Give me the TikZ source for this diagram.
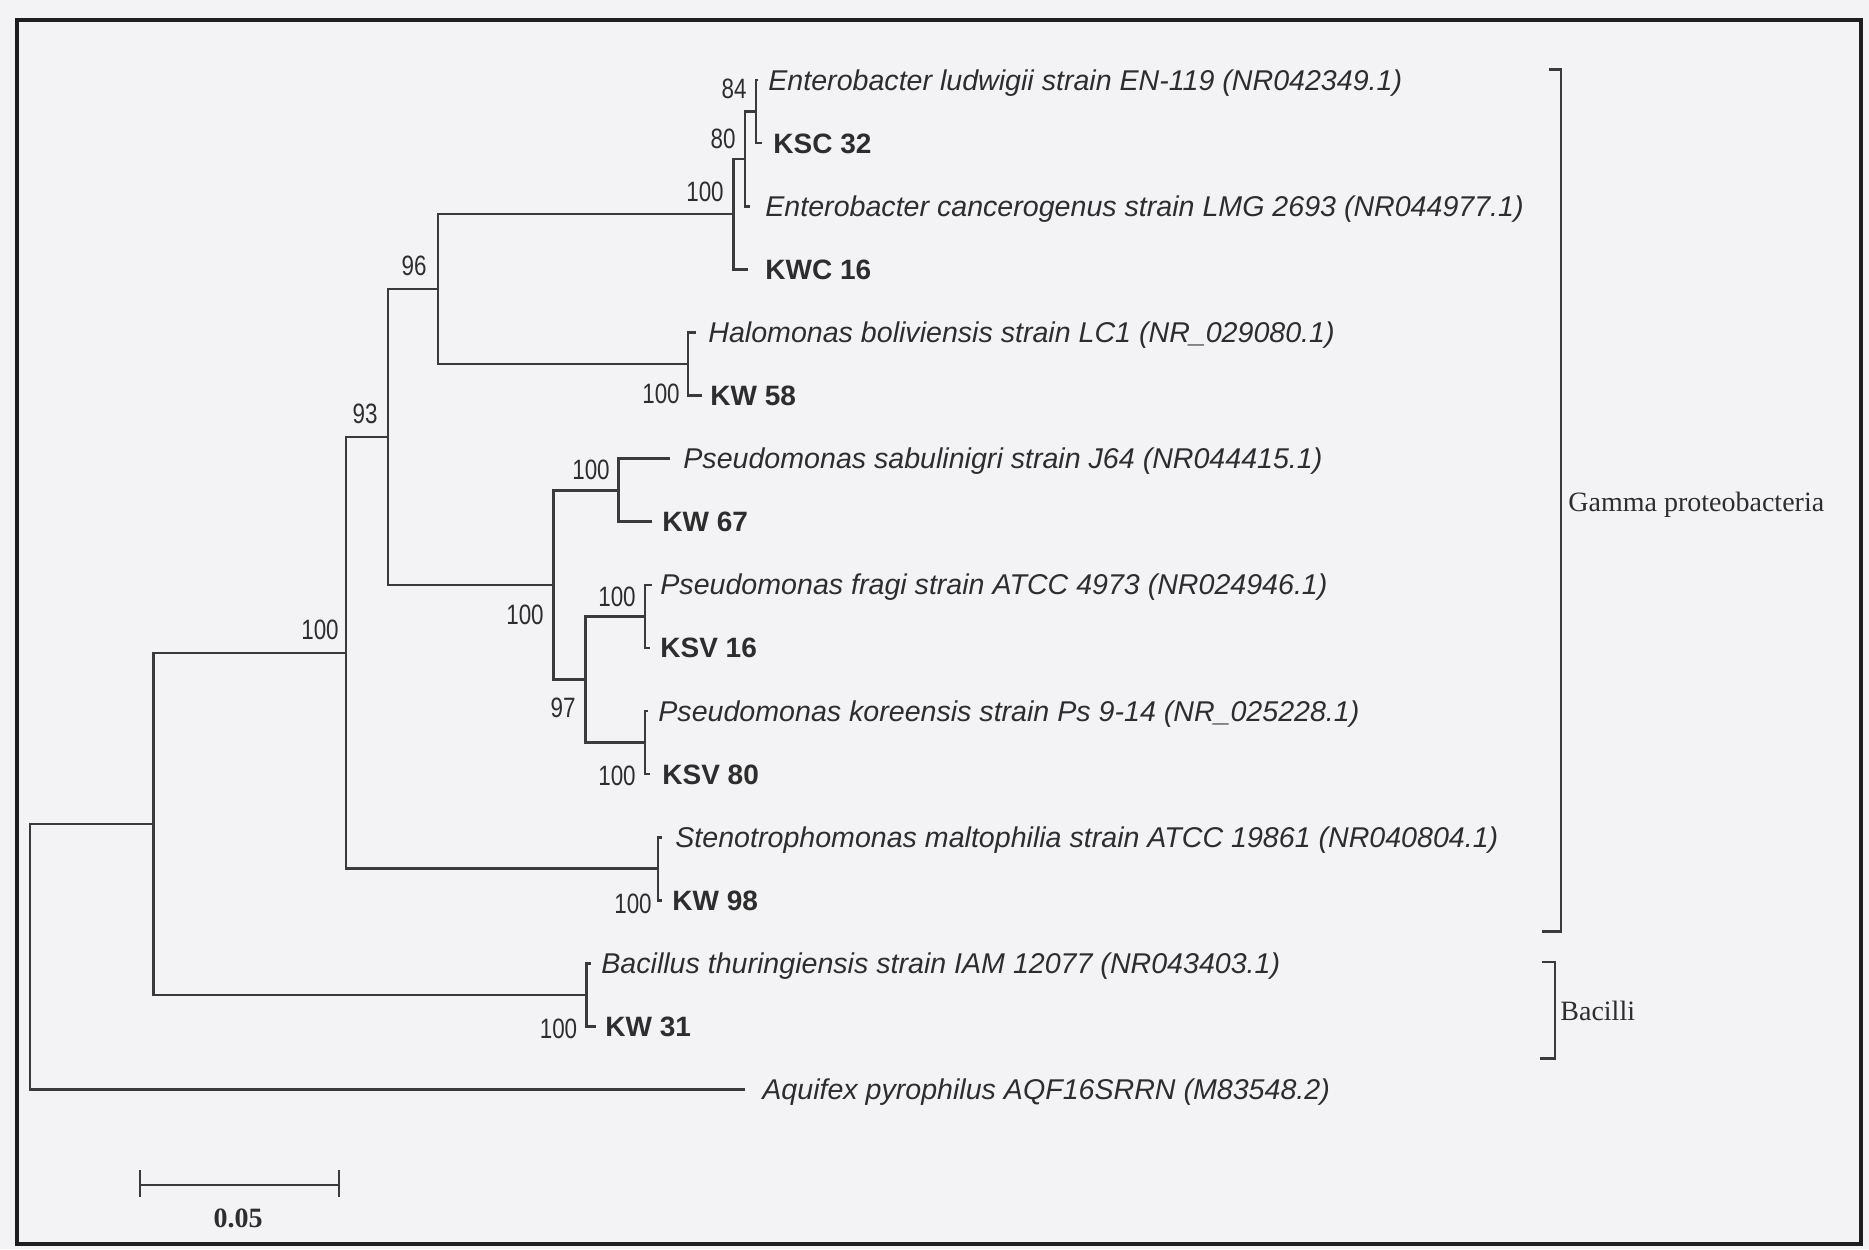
\documentclass[tikz,border=0pt]{standalone}
\usepackage{fontspec}
\setmainfont{Liberation Serif}
\setsansfont{Liberation Sans}
\newfontfamily\bootfont[FakeStretch=0.8]{Liberation Sans}
\definecolor{bgc}{RGB}{243,243,245}
\definecolor{treec}{RGB}{58,58,58}
\definecolor{txtc}{RGB}{45,45,45}
\definecolor{framec}{RGB}{30,30,30}
\begin{document}
\begin{tikzpicture}[x=0.5pt,y=-0.5pt,
  branch/.style={draw=treec,line width=1.3pt,line join=miter},
  leaf/.style={anchor=base west,inner sep=0pt,text=txtc,font=\sffamily\itshape\fontsize{14.3}{16}\selectfont},
  iso/.style={anchor=base west,inner sep=0pt,text=txtc,font=\sffamily\bfseries\fontsize{14}{16}\selectfont},
  boot/.style={inner sep=0pt,text=txtc,font=\bootfont\fontsize{14}{16}\selectfont},
  grp/.style={anchor=base west,inner sep=0pt,text=txtc,font=\rmfamily\fontsize{14}{16}\selectfont},
  brk/.style={draw=treec,line width=1.2pt,line join=miter}]
\fill[bgc] (0,0) rectangle (1869,1249);
\useasboundingbox (0,0) rectangle (1869,1249);
\draw[framec,line width=1.8pt] (17,20) rectangle (1861,1244);

% leaf tips
\coordinate (L1) at (758,80);
\coordinate (L2) at (762,143.1);
\coordinate (L3) at (750,206.2);
\coordinate (L4) at (748,269.3);
\coordinate (L5) at (696,332.4);
\coordinate (L6) at (702,395.5);
\coordinate (L7) at (670,458.6);
\coordinate (L8) at (652,521.7);
\coordinate (L9) at (652,584.8);
\coordinate (L10) at (650,647.9);
\coordinate (L11) at (648,711);
\coordinate (L12) at (650,774.1);
\coordinate (L13) at (662,837.2);
\coordinate (L14) at (662,900.3);
\coordinate (L15) at (591,963.4);
\coordinate (L16) at (596,1026.5);
\coordinate (L17) at (745,1089.6);

% internal nodes
\coordinate (N84) at (756,111.55);
\coordinate (N80) at (745,158.9);
\coordinate (NEnt) at (733.3,214.1);
\coordinate (NHal) at (688,364);
\coordinate (N96) at (438,289);
\coordinate (NSab) at (618.3,490.2);
\coordinate (NFra) at (645,616.4);
\coordinate (NKor) at (645,742.6);
\coordinate (N97) at (585.7,679.5);
\coordinate (NPse) at (553.3,584.8);
\coordinate (N93) at (388,436.9);
\coordinate (NSte) at (658,868.75);
\coordinate (NGam) at (346,652.8);
\coordinate (NBac) at (586.6,994.95);
\coordinate (NGB) at (153.7,823.9);
\coordinate (NRoot) at (29.8,956.75);

% branches
\draw[branch] (N84) |- (L1) (N84) |- (L2);
\draw[branch] (N80) |- (N84) (N80) |- (L3);
\draw[branch] (NEnt) |- (N80) (NEnt) |- (L4);
\draw[branch] (NHal) |- (L5) (NHal) |- (L6);
\draw[branch] (N96) |- (NEnt) (N96) |- (NHal);
\draw[branch] (NSab) |- (L7) (NSab) |- (L8);
\draw[branch] (NFra) |- (L9) (NFra) |- (L10);
\draw[branch] (NKor) |- (L11) (NKor) |- (L12);
\draw[branch] (N97) |- (NFra) (N97) |- (NKor);
\draw[branch] (NPse) |- (NSab) (NPse) |- (N97);
\draw[branch] (N93) |- (N96) (N93) |- (NPse);
\draw[branch] (NSte) |- (L13) (NSte) |- (L14);
\draw[branch] (NGam) |- (N93) (NGam) |- (NSte);
\draw[branch] (NBac) |- (L15) (NBac) |- (L16);
\draw[branch] (NGB) |- (NGam) (NGB) |- (NBac);
\draw[branch] (NRoot) |- (NGB) (NRoot) |- (L17);

% leaf labels
\node[leaf] (t1) at (768,90) {Enterobacter ludwigii strain EN-119 (NR042349.1)};
\node[iso] (t2) at (773,153.1) {KSC 32};
\node[leaf] (t3) at (765,216.2) {Enterobacter cancerogenus strain LMG 2693 (NR044977.1)};
\node[iso] (t4) at (765,279.3) {KWC 16};
\node[leaf] (t5) at (708,342.4) {Halomonas boliviensis strain LC1 (NR\_029080.1)};
\node[iso] (t6) at (710,405.5) {KW 58};
\node[leaf] (t7) at (683,468.6) {Pseudomonas sabulinigri strain J64 (NR044415.1)};
\node[iso] (t8) at (662,531.7) {KW 67};
\node[leaf] (t9) at (660,594.8) {Pseudomonas fragi strain ATCC 4973 (NR024946.1)};
\node[iso] (t10) at (660,657.9) {KSV 16};
\node[leaf] (t11) at (658,721) {Pseudomonas koreensis strain Ps 9-14 (NR\_025228.1)};
\node[iso] (t12) at (662,784.1) {KSV 80};
\node[leaf] (t13) at (675,847.2) {Stenotrophomonas maltophilia strain ATCC 19861 (NR040804.1)};
\node[iso] (t14) at (672,910.3) {KW 98};
\node[leaf] (t15) at (601,973.4) {Bacillus thuringiensis strain IAM 12077 (NR043403.1)};
\node[iso] (t16) at (605,1036.5) {KW 31};
\node[leaf] (t17) at (762,1099.6) {Aquifex pyrophilus AQF16SRRN (M83548.2)};

% bootstrap values
\node[boot] (b84) at (734,89) {84};
\node[boot] (b80) at (723,138.5) {80};
\node[boot] (bEnt) at (705,191.7) {100};
\node[boot] (b96) at (414,265.6) {96};
\node[boot] (bHal) at (661,394) {100};
\node[boot] (b93) at (365,414) {93};
\node[boot] (bSab) at (591,470) {100};
\node[boot] (bGam) at (320,629.5) {100};
\node[boot] (bPse) at (525,615) {100};
\node[boot] (bFra) at (617,596.7) {100};
\node[boot] (b97) at (563,708) {97};
\node[boot] (bKor) at (617,776) {100};
\node[boot] (bSte) at (633,904) {100};
\node[boot] (bBac) at (558.5,1028.5) {100};

% group brackets
\coordinate (g1) at (1549,69.3);
\coordinate (g2) at (1561,69.3);
\coordinate (g3) at (1561,931.5);
\coordinate (g4) at (1542,931.5);
\draw[brk] (g1) -- (g2) -- (g3) -- (g4);
\node[grp] (gam) at (1568,511) {Gamma proteobacteria};
\coordinate (h1) at (1542,961.7);
\coordinate (h2) at (1555,961.7);
\coordinate (h3) at (1555,1058.3);
\coordinate (h4) at (1540,1058.3);
\draw[brk] (h1) -- (h2) -- (h3) -- (h4);
\node[grp] (bac) at (1560,1020) {Bacilli};

% scale bar
\coordinate (s1) at (140,1185);
\coordinate (s2) at (339,1185);
\draw[brk] (s1) -- (s2);
\draw[brk] (140,1170) -- (140,1197) (339,1170) -- (339,1197);
\node[inner sep=0pt,text=txtc,font=\rmfamily\bfseries\fontsize{14}{16}\selectfont] (sc) at (238,1218) {0.05};
\end{tikzpicture}
\end{document}
